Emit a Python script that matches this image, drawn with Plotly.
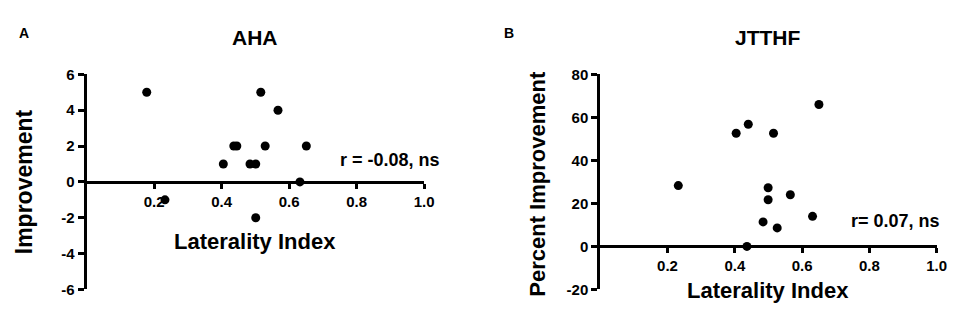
import plotly.graph_objects as go

# Panel A: AHA
aha_li = [0.178, 0.232, 0.405, 0.436, 0.445, 0.484, 0.501, 0.516, 0.567, 0.529, 0.651, 0.632, 0.501]
aha_imp = [5, -1, 1, 2, 2, 1, 1, 5, 4, 2, 2, 0, -2]

# Panel B: JTTHF
jt_li = [0.232, 0.404, 0.440, 0.515, 0.650, 0.499, 0.499, 0.565, 0.631, 0.484, 0.526, 0.436]
jt_imp = [28.3, 52.6, 56.8, 52.6, 66.0, 27.3, 21.7, 24.0, 14.0, 11.4, 8.6, 0]

x_ticks = [0.2, 0.4, 0.6, 0.8, 1.0]
x_ticktext = ["0.2", "0.4", "0.6", "0.8", "1.0"]
a_yticks = [-6, -4, -2, 0, 2, 4, 6]
a_yticktext = ["-6", "-4", "-2", "0", "2", "4", "6"]
b_yticks = [-20, 0, 20, 40, 60, 80]
b_yticktext = ["-20", "0", "20", "40", "60", "80"]

W, H = 957, 309
FONT = "Liberation Sans, Arial, sans-serif"

ydom = [1 - 288.3 / H, 1 - 60.7 / H]
a_xdom = [79.5 / W, 420.5 / W]
b_xdom = [598.5 / W, 938.5 / W]
a_yr = [-6, 6]
b_yr = [-20, 80]


def zero_pos(yr):
    return ydom[0] + (0 - yr[0]) / (yr[1] - yr[0]) * (ydom[1] - ydom[0])


fig = go.Figure()
fig.add_trace(go.Scatter(x=aha_li, y=aha_imp, mode="markers",
                         marker=dict(color="black", size=9),
                         xaxis="x", yaxis="y", showlegend=False, cliponaxis=False))
fig.add_trace(go.Scatter(x=jt_li, y=jt_imp, mode="markers",
                         marker=dict(color="black", size=9),
                         xaxis="x2", yaxis="y2", showlegend=False, cliponaxis=False))

tickfont = dict(family=FONT, size=15, color="black", weight="bold")
common_x = dict(range=[0, 1.0], tickvals=x_ticks, ticktext=x_ticktext,
                showline=True, linewidth=3, linecolor="black",
                ticks="outside", ticklen=5, tickwidth=3, tickcolor="black",
                showgrid=False, zeroline=False, tickfont=tickfont, anchor="free")
common_y = dict(showline=True, linewidth=3, linecolor="black",
                ticks="outside", ticklen=6, tickwidth=3, tickcolor="black",
                showgrid=False, zeroline=False, tickfont=tickfont, domain=ydom)

fig.update_layout(
    width=W, height=H,
    margin=dict(l=0, r=0, t=0, b=0),
    paper_bgcolor="white", plot_bgcolor="white",
    xaxis=dict(domain=a_xdom, position=zero_pos(a_yr), **common_x),
    yaxis=dict(range=a_yr, tickvals=a_yticks, ticktext=a_yticktext, anchor="x", **common_y),
    xaxis2=dict(domain=b_xdom, position=zero_pos(b_yr), **common_x),
    yaxis2=dict(range=b_yr, tickvals=b_yticks, ticktext=b_yticktext, anchor="x2", **common_y),
)


def ann(text, x, y, size, angle=0):
    fig.add_annotation(text=text, x=x / W, y=1 - y / H, xref="paper", yref="paper",
                       showarrow=False, textangle=angle,
                       font=dict(family=FONT, size=size, color="black", weight="bold"),
                       xanchor="center", yanchor="middle")


ann("A", 16, 17, 14)
ann("B", 506, 17, 14)
ann("AHA", 250, 22, 21)
ann("JTTHF", 768, 22, 21)
ann("Laterality Index", 250, 238, 22)
ann("Laterality Index", 768, 289, 22)
ann("Improvement", 17, 174, 23, -90)
ann("Percent Improvement", 535, 176, 22, -90)
ann("r = -0.08, ns", 386, 151, 18)
ann("r= 0.07, ns", 897, 216, 18)

fig.write_html("out.html")
